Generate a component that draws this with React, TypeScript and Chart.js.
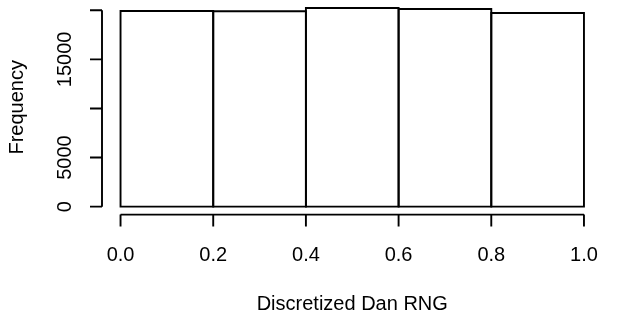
import React, { useEffect, useRef } from "react";
import { Chart, registerables } from "chart.js";

Chart.register(...registerables);

// Histogram data
const binEdges = [0, 0.2, 0.4, 0.6, 0.8, 1.0];
const counts = [19930, 19900, 20240, 20140, 19730];

// Axis ticks and labels
const xTicks = [0, 0.2, 0.4, 0.6, 0.8, 1.0];
const xTickLabels = ["0.0", "0.2", "0.4", "0.6", "0.8", "1.0"];
const yTicks = [0, 5000, 10000, 15000, 20000];
const yLabelValues = [0, 5000, 15000];
const yLabelTexts = ["0", "5000", "15000"];

const xTitle = "Discretized Dan RNG";
const yTitle = "Frequency";

const FONT = '20px "Liberation Sans", Arial, Helvetica, sans-serif';
const LW = 1.9;

const rAxesPlugin = {
  id: "rAxes",
  afterDatasetsDraw(chart: any) {
    const ctx = chart.ctx;
    const area = chart.chartArea;
    const xs = chart.scales.x;
    const ys = chart.scales.y;
    ctx.save();
    ctx.strokeStyle = "#000";
    ctx.lineWidth = LW;
    ctx.lineCap = "butt";

    // bar outlines (R style, shared edges)
    const meta = chart.getDatasetMeta(0);
    meta.data.forEach((el: any) => {
      const props = el.getProps(["x", "y", "base", "width"], true);
      const l = props.x - props.width / 2;
      const r = props.x + props.width / 2;
      ctx.beginPath();
      ctx.rect(l, props.y, r - l, props.base - props.y);
      ctx.stroke();
    });

    // x axis
    const xb = area.bottom;
    const x0 = xs.getPixelForValue(xTicks[0]);
    const x1 = xs.getPixelForValue(xTicks[xTicks.length - 1]);
    ctx.beginPath();
    ctx.moveTo(x0, xb);
    ctx.lineTo(x1, xb);
    xTicks.forEach((v) => {
      const px = xs.getPixelForValue(v);
      ctx.moveTo(px, xb);
      ctx.lineTo(px, xb + 12);
    });
    ctx.stroke();

    // y axis
    const yl = area.left;
    const y0 = ys.getPixelForValue(yTicks[0]);
    const y1 = ys.getPixelForValue(yTicks[yTicks.length - 1]);
    ctx.beginPath();
    ctx.moveTo(yl, y0);
    ctx.lineTo(yl, y1);
    yTicks.forEach((v) => {
      const py = ys.getPixelForValue(v);
      ctx.moveTo(yl, py);
      ctx.lineTo(yl - 12, py);
    });
    ctx.stroke();

    // labels
    ctx.fillStyle = "#000";
    ctx.font = FONT;
    ctx.textAlign = "center";
    ctx.textBaseline = "alphabetic";
    xTicks.forEach((v, i) => {
      ctx.fillText(xTickLabels[i], xs.getPixelForValue(v), xb + 46.2);
    });
    ctx.fillText(xTitle, (area.left + area.right) / 2, xb + 95);

    yLabelValues.forEach((v, i) => {
      const py = ys.getPixelForValue(v);
      ctx.save();
      ctx.translate(yl - 31.3, py);
      ctx.rotate(-Math.PI / 2);
      ctx.fillText(yLabelTexts[i], 0, 0);
      ctx.restore();
    });
    ctx.save();
    ctx.translate(yl - 79.3, (area.top + area.bottom) / 2);
    ctx.rotate(-Math.PI / 2);
    ctx.fillText(yTitle, 0, 0);
    ctx.restore();

    ctx.restore();
  },
};

export default function App() {
  const ref = useRef<HTMLCanvasElement | null>(null);
  useEffect(() => {
    if (!ref.current) return;
    const mids = counts.map((_, i) => (binEdges[i] + binEdges[i + 1]) / 2);
    const ymax = Math.max(...counts);
    const xmin = binEdges[0];
    const xmax = binEdges[binEdges.length - 1];
    const xr = xmax - xmin;
    const chart = new Chart(ref.current, {
      type: "bar",
      data: {
        datasets: [
          {
            data: mids.map((m, i) => ({ x: m, y: counts[i] })),
            backgroundColor: "#ffffff",
            borderWidth: 0,
            barPercentage: 1,
            categoryPercentage: 1,
          },
        ],
      },
      options: {
        animation: false,
        responsive: false,
        layout: { padding: { left: 102, right: 15.5, top: 0, bottom: 98.4 } },
        plugins: {
          legend: { display: false },
          tooltip: { enabled: false },
          title: { display: false },
        },
        scales: {
          x: {
            type: "linear",
            display: false,
            offset: false,
            min: xmin - 0.04 * xr,
            max: xmax + 0.04 * xr,
          },
          y: {
            type: "linear",
            display: false,
            min: -0.04 * ymax,
            max: 1.04 * ymax,
          },
        },
      },
      plugins: [rAxesPlugin],
    } as any);
    return () => chart.destroy();
  }, []);
  return (
    <div style={{ position: "fixed", left: 0, top: 0, width: 618, height: 313, background: "#fff" }}>
      <canvas ref={ref} width={618} height={313} style={{ width: 618, height: 313, display: "block" }} />
    </div>
  );
}
